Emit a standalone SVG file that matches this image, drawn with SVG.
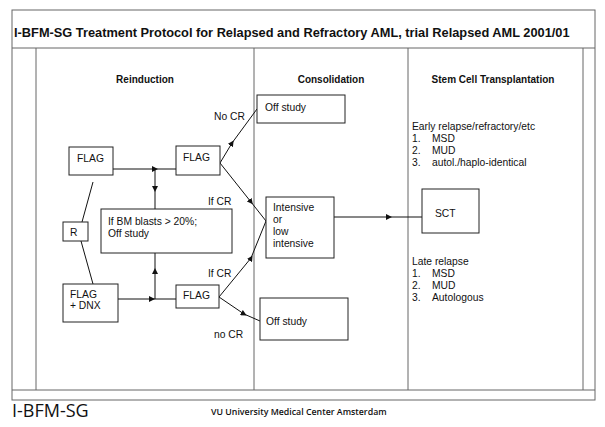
<svg xmlns="http://www.w3.org/2000/svg" width="605" height="427" viewBox="0 0 605 427">
<style>
text{font-family:"Liberation Sans",Arial,sans-serif;fill:#111}
.frame{fill:none;stroke:#666;stroke-width:1}
.box{fill:#fff;stroke:#222;stroke-width:1}
.con{fill:none;stroke:#111;stroke-width:1}
.hd{font-size:10px;font-weight:bold;text-anchor:middle}
.t{font-size:10.3px}
.s{font-size:10.3px}
.lb{font-size:10.3px}
</style>
<defs>
<marker id="ah" viewBox="0 0 10 10" refX="5" refY="5" markerWidth="6" markerHeight="6" markerUnits="userSpaceOnUse" orient="auto">
<path d="M0,0 L10,5 L0,10 z" fill="#111"/>
</marker>
</defs>
<rect width="605" height="427" fill="#fff"/>
<g id="frame">
<rect class="frame" x="12" y="10" width="583" height="390"/>
<line class="frame" x1="12" y1="48" x2="595" y2="48"/>
<line class="frame" x1="12" y1="390" x2="595" y2="390"/>
<line class="frame" x1="36" y1="48" x2="36" y2="390"/>
<line class="frame" x1="254" y1="48" x2="254" y2="390"/>
<line class="frame" x1="408" y1="48" x2="408" y2="390"/>
<line class="frame" x1="583" y1="48" x2="583" y2="390"/>
<text x="14" y="37" style="font-size:12.8px;font-weight:bold">I-BFM-SG Treatment Protocol for Relapsed and Refractory AML, trial Relapsed AML 2001/01</text>
<text class="hd" x="145" y="83">Reinduction</text>
<text class="hd" x="331" y="83">Consolidation</text>
<text class="hd" x="493" y="83">Stem Cell Transplantation</text>
</g>
<g id="connectors">
<line class="con" x1="82" y1="222" x2="93" y2="182"/>
<line class="con" x1="81" y1="241" x2="93" y2="284"/>
<path class="con" d="M113,169 L155,169 L176,169" marker-mid="url(#ah)"/>
<path class="con" d="M155,169 L155,189 L155,209" marker-mid="url(#ah)"/>
<path class="con" d="M118,299 L152,299 L176,299" marker-mid="url(#ah)"/>
<path class="con" d="M155,299 L155,271 L155,253" marker-mid="url(#ah)"/>
<path class="con" d="M220,163 L232,143 L257,109" marker-mid="url(#ah)"/>
<path class="con" d="M220,163 L251,202 L266,221" marker-mid="url(#ah)"/>
<path class="con" d="M219,297 L251,258 L266,221" marker-mid="url(#ah)"/>
<path class="con" d="M219,297 L244,314 L260,321" marker-mid="url(#ah)"/>
<path class="con" d="M334,217 L389,217 L422,217" marker-mid="url(#ah)"/>
<text class="lb" x="214" y="120">No CR</text>
<text class="lb" x="208" y="205">If CR</text>
<text class="lb" x="208" y="277">If CR</text>
<text class="lb" x="214" y="338">no CR</text>
</g>
<g id="flag1"><rect class="box" x="69" y="147" width="44" height="28"/><text class="t" x="77" y="162">FLAG</text></g>
<g id="flag2"><rect class="box" x="176" y="146" width="44" height="29"/><text class="t" x="183" y="161">FLAG</text></g>
<g id="r"><rect class="box" x="63" y="222" width="25" height="19"/><text class="t" x="70" y="236">R</text></g>
<g id="blasts"><rect class="box" x="101" y="209" width="131" height="44"/><text class="lb" x="108" y="225">If BM blasts &gt; 20%;</text><text class="lb" x="108" y="237">Off study</text></g>
<g id="flagdnx"><rect class="box" x="63" y="284" width="55" height="38"/><text class="t" x="70" y="298">FLAG</text><text class="t" x="70" y="309">+ DNX</text></g>
<g id="flag3"><rect class="box" x="176" y="285" width="43" height="23"/><text class="t" x="183" y="299">FLAG</text></g>
<g id="offstudy1"><rect class="box" x="257" y="95" width="88" height="28"/><text class="s" x="265" y="111">Off study</text></g>
<g id="intensive"><rect class="box" x="266" y="197" width="68" height="61"/>
<text class="s" x="273" y="211">Intensive</text><text class="s" x="273" y="223">or</text><text class="s" x="273" y="235">low</text><text class="s" x="273" y="247">intensive</text></g>
<g id="offstudy2"><rect class="box" x="260" y="298" width="88" height="42"/><text class="s" x="266" y="325">Off study</text></g>
<g id="sct"><rect class="box" x="422" y="189" width="57" height="44"/><text class="t" x="435" y="217">SCT</text></g>
<g id="early">
<text class="s" x="412" y="130">Early relapse/refractory/etc</text>
<text class="s" x="412" y="142">1.</text><text class="s" x="432" y="142">MSD</text>
<text class="s" x="412" y="154">2.</text><text class="s" x="432" y="154">MUD</text>
<text class="s" x="412" y="166">3.</text><text class="s" x="432" y="166">autol./haplo-identical</text>
</g>
<g id="late">
<text class="s" x="412" y="265">Late relapse</text>
<text class="s" x="412" y="277">1.</text><text class="s" x="432" y="277">MSD</text>
<text class="s" x="412" y="289">2.</text><text class="s" x="432" y="289">MUD</text>
<text class="s" x="412" y="301">3.</text><text class="s" x="432" y="301">Autologous</text>
</g>
<g id="footer">
<text x="12" y="417" style="font-family:'Open Sans','DejaVu Sans',sans-serif;font-size:18px">I-BFM-SG</text>
<text x="211" y="415" style="font-family:'Open Sans','DejaVu Sans',sans-serif;font-size:8.8px;font-weight:600">VU University Medical Center Amsterdam</text>
</g>
</svg>
